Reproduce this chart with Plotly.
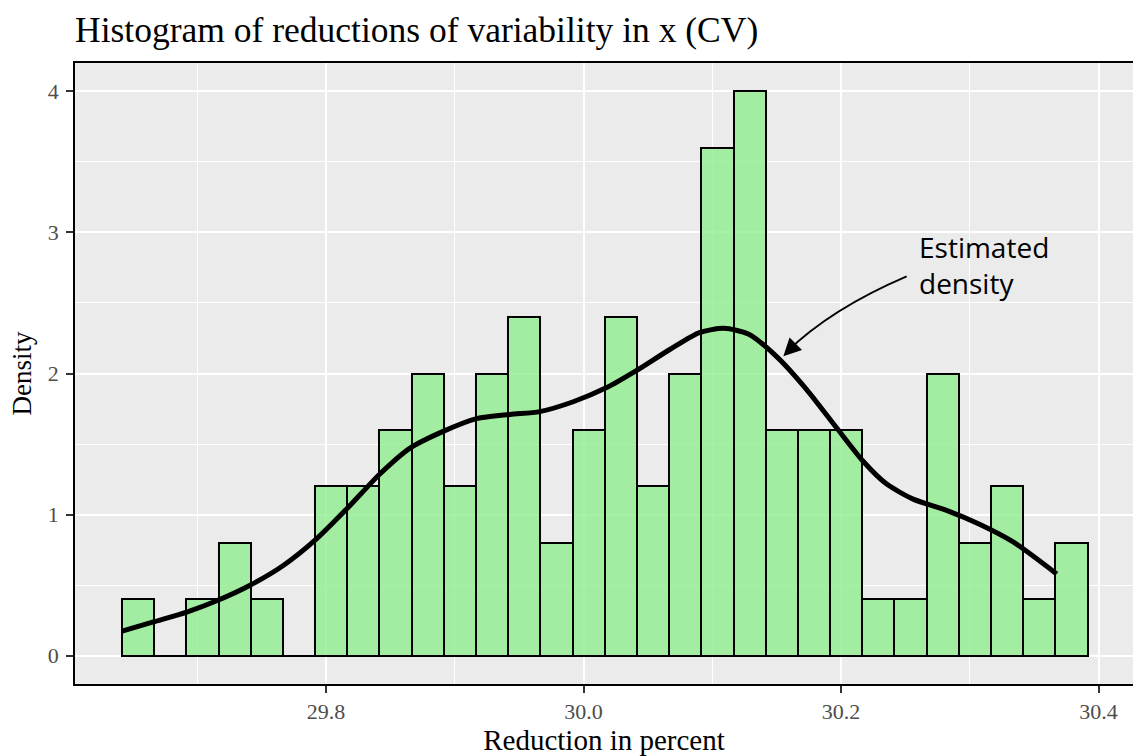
import plotly.graph_objects as go

# ---- data ----
bin_centers = [29.654, 29.679, 29.704, 29.729, 29.754, 29.779, 29.804, 29.829, 29.854, 29.879,
               29.904, 29.929, 29.954, 29.979, 30.004, 30.029, 30.054, 30.079, 30.104, 30.129,
               30.154, 30.179, 30.204, 30.229, 30.254, 30.279, 30.304, 30.329, 30.354, 30.379]
bin_width = 0.025
bar_density = [0.4, 0.0, 0.4, 0.8, 0.4, 0.0, 1.2, 1.2, 1.6, 2.0,
               1.2, 2.0, 2.4, 0.8, 1.6, 2.4, 1.2, 2.0, 3.6, 4.0,
               1.6, 1.6, 1.6, 0.4, 0.4, 2.0, 0.8, 1.2, 0.4, 0.8]

kde_x = [29.6416, 29.6659, 29.6918, 29.7151, 29.741, 29.7668, 29.7928, 29.816, 29.842, 29.865,
         29.891, 29.917, 29.943, 29.966, 29.992, 30.018, 30.041, 30.067, 30.090, 30.109,
         30.128, 30.150, 30.173, 30.197, 30.217, 30.235, 30.256, 30.282, 30.308, 30.334,
         30.3675]
kde_y = [0.174, 0.24, 0.31, 0.39, 0.50, 0.64, 0.83, 1.04, 1.29, 1.47,
         1.59, 1.68, 1.71, 1.73, 1.80, 1.90, 2.02, 2.17, 2.29, 2.32,
         2.28, 2.12, 1.89, 1.61, 1.38, 1.22, 1.11, 1.03, 0.93, 0.805,
         0.58]

x_ticks = [29.8, 30.0, 30.2, 30.4]
y_ticks = [0, 1, 2, 3, 4]

title_text = "Histogram of reductions of variability in x (CV)"
x_title = "Reduction in percent"
y_title = "Density"
note_text = "Estimated<br>density"

SERIF = "Liberation Serif"

fig = go.Figure()
fig.add_trace(go.Bar(
    x=bin_centers, y=bar_density, width=[bin_width] * len(bin_centers),
    marker=dict(color="rgba(144,238,144,0.8)", line=dict(color="black", width=2)),
    hoverinfo="skip", showlegend=False,
))
fig.add_trace(go.Scatter(
    x=kde_x, y=kde_y, mode="lines",
    line=dict(color="black", width=5, shape="spline", smoothing=0.7),
    hoverinfo="skip", showlegend=False,
))

# curved arrow (annotation)
fig.add_shape(type="path", xref="x", yref="y",
              path="M 30.2510,2.688 Q 30.1920,2.458 30.1575,2.150",
              line=dict(color="black", width=1.8))
fig.add_annotation(x=30.1552, y=2.123, xref="x", yref="y", text="",
                   showarrow=True, ax=9, ay=-9, axref="pixel", ayref="pixel",
                   arrowhead=2, arrowsize=2.2, arrowwidth=1.6, arrowcolor="black", standoff=0)
fig.add_annotation(x=30.259, y=2.77, xref="x", yref="y", text=note_text,
                   showarrow=False, xanchor="left", yanchor="middle", align="left",
                   font=dict(family="Open Sans", size=28, color="black"))

fig.update_layout(
    width=1133, height=756,
    margin=dict(l=75, r=0, t=63, b=72),
    paper_bgcolor="white", plot_bgcolor="#EBEBEB",
    bargap=0,
    title=dict(text=title_text, x=75 / 1133, xanchor="left", xref="container",
               y=1 - 30 / 756, yanchor="middle", yref="container",
               font=dict(family=SERIF, size=35.5, color="black")),
    xaxis=dict(range=[29.605, 30.4268], tickvals=x_ticks, ticktext=["29.8", "30.0", "30.2", "30.4"],
               showgrid=True, gridcolor="white", gridwidth=2,
               minor=dict(tickvals=[29.7, 29.9, 30.1, 30.3], showgrid=True, gridcolor="white", gridwidth=1.2),
               ticks="outside", ticklen=7, tickwidth=2, tickcolor="#333333",
               tickfont=dict(family=SERIF, size=22, color="#4D4D4D"),
               showline=True, linecolor="black", linewidth=1.5, mirror=True,
               zeroline=False,
               title=dict(text=x_title, font=dict(family=SERIF, size=29, color="black"), standoff=6)),
    yaxis=dict(range=[-0.2, 4.2], tickvals=y_ticks,
               showgrid=True, gridcolor="white", gridwidth=2,
               minor=dict(tickvals=[0.5, 1.5, 2.5, 3.5], showgrid=True, gridcolor="white", gridwidth=1.2),
               ticks="outside", ticklen=7, tickwidth=2, tickcolor="#333333",
               tickfont=dict(family=SERIF, size=22, color="#4D4D4D"),
               ticklabelstandoff=3,
               showline=True, linecolor="black", linewidth=1.5, mirror=False,
               zeroline=False,
               title=dict(text=y_title, font=dict(family=SERIF, size=27, color="black"), standoff=8)),
)

fig.write_html("out.html")
